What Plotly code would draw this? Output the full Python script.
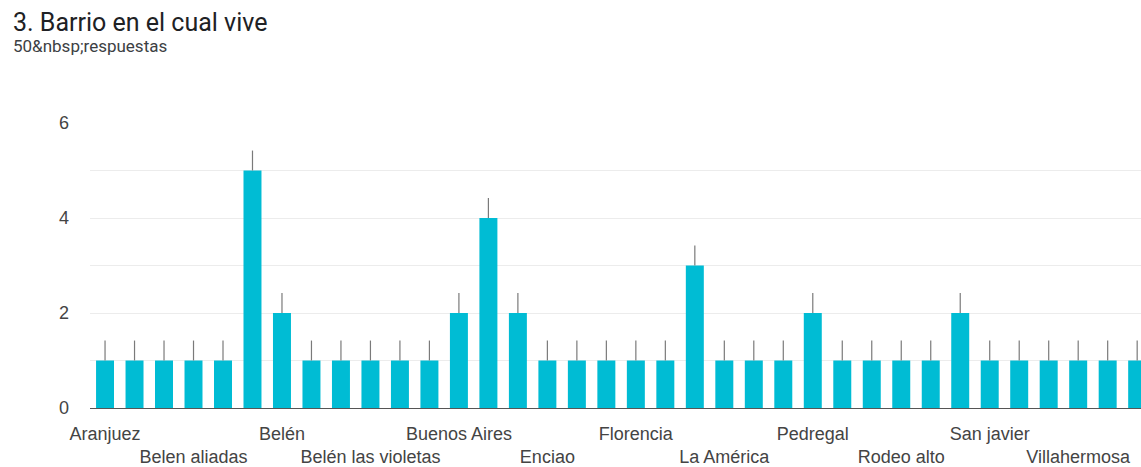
import plotly.graph_objects as go

# Responses per neighbourhood, in alphabetical order of the neighbourhood name
counts = [1, 1, 1, 1, 1, 5, 2, 1, 1, 1, 1, 1, 2, 4, 2, 1, 1, 1,
          1, 1, 3, 1, 1, 1, 2, 1, 1, 1, 1, 2, 1, 1, 1, 1, 1, 1]

# Names printed under the axis (every third neighbourhood, two staggered rows)
row1_labels = ["Aranjuez", "Belén", "Buenos Aires", "Florencia", "Pedregal", "San javier"]
row2_labels = ["Belen aliadas", "Belén las violetas", "Enciao", "La América",
               "Rodeo alto", "Villahermosa"]
label_step = 3

title_text = "3. Barrio en el cual vive"
# the entity is shown literally, so the ampersand is escaped
subtitle_text = "50&amp;nbsp;respuestas"

# Layout constants (pixels)
W, H = 1141, 467
ML, MR, MT, MB = 90, 0, 123, 59
plot_w = W - ML - MR
plot_h = H - MT - MB

positions = list(range(len(counts)))
row1_pos = [i * 2 * label_step for i in range(len(row1_labels))]
row2_pos = [label_step + i * 2 * label_step for i in range(len(row2_labels))]

HEAD_FONT = "Roboto, Arial, sans-serif"
AXIS_FONT = "Arial, 'Liberation Sans', sans-serif"
BAR = "#00bcd4"
TEXT = "#444444"
GRID = "#ececec"

x_range = [-0.51, 35.13]

fig = go.Figure()
fig.add_trace(go.Bar(
    x=positions,
    y=counts,
    marker=dict(color=BAR, line=dict(width=0)),
    error_y=dict(type="constant", value=0.42, symmetric=False, valueminus=0,
                 width=0, thickness=1.2, color="#7a7a7a"),
    hoverinfo="y",
    showlegend=False,
))
# Invisible trace carrying the second (lower) row of category names
fig.add_trace(go.Scatter(x=[x_range[0]], y=[0], xaxis="x2", mode="markers",
                         marker=dict(opacity=0), showlegend=False, hoverinfo="skip"))

tick_font = dict(size=18, color=TEXT, family=AXIS_FONT)

fig.update_layout(
    width=W, height=H,
    margin=dict(l=ML, r=MR, t=MT, b=MB, pad=0),
    paper_bgcolor="white", plot_bgcolor="white",
    bargap=0.39,
    font=dict(family=AXIS_FONT, color=TEXT),
    xaxis=dict(
        range=x_range, tickmode="array", tickvals=row1_pos, ticktext=row1_labels,
        showgrid=False, zeroline=False, showline=True, linecolor="#555555", linewidth=1,
        ticks="", tickfont=tick_font, ticklabelstandoff=9,
    ),
    xaxis2=dict(
        range=x_range, overlaying="x", side="bottom", anchor="y",
        tickmode="array", tickvals=row2_pos, ticktext=row2_labels,
        showgrid=False, zeroline=False, showline=False, ticks="",
        tickfont=tick_font, ticklabelstandoff=36,
    ),
    yaxis=dict(
        range=[0, 6], tickmode="linear", tick0=0, dtick=2,
        showgrid=True, gridcolor=GRID, gridwidth=1,
        minor=dict(dtick=1, showgrid=True, gridcolor=GRID, gridwidth=1),
        zeroline=False, showline=False, ticks="",
        tickfont=tick_font, ticklabelstandoff=20,
    ),
    annotations=[
        dict(text=title_text, xref="paper", yref="paper",
             x=(11 - ML) / plot_w, y=(H - MB - 22) / plot_h,
             xanchor="left", yanchor="middle", showarrow=False,
             font=dict(size=25, color="#202124", family=HEAD_FONT)),
        dict(text=subtitle_text, xref="paper", yref="paper",
             x=(11 - ML) / plot_w, y=(H - MB - 46) / plot_h,
             xanchor="left", yanchor="middle", showarrow=False,
             font=dict(size=17, color="#3c4043", family=HEAD_FONT)),
    ],
)

fig.write_html("out.html")
